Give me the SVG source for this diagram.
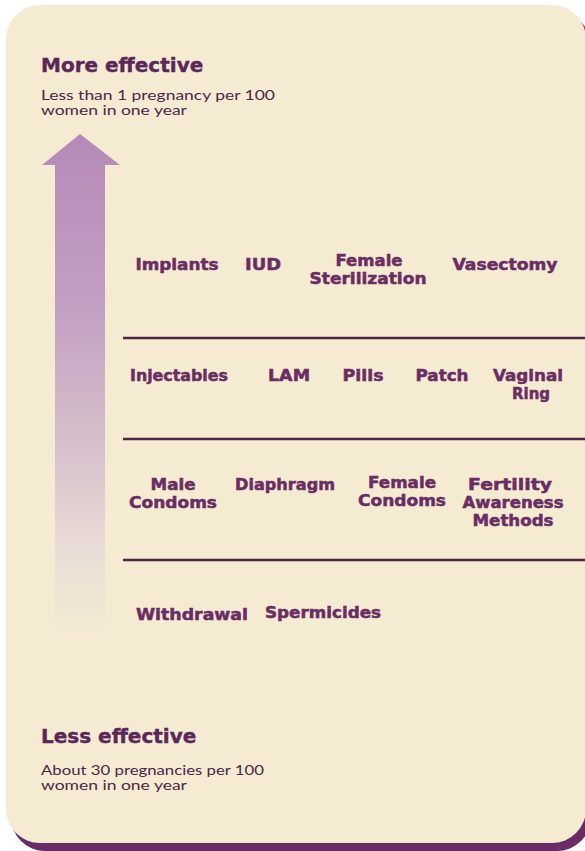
<svg xmlns="http://www.w3.org/2000/svg" width="585" height="851" viewBox="0 0 585 851">
<defs>
<linearGradient id="arrowGrad" gradientUnits="userSpaceOnUse" x1="0" y1="134" x2="0" y2="635">
<stop offset="0" stop-color="#b48ab8"/>
<stop offset="0.35" stop-color="#c2a0c2"/>
<stop offset="0.65" stop-color="#d9c4cd"/>
<stop offset="0.85" stop-color="#ebdfd6"/>
<stop offset="1" stop-color="#f4ebd2"/>
</linearGradient>
<style>
.item{font-family:"DejaVu Sans",sans-serif;font-weight:bold;font-size:15px;fill:#6a2d63;stroke:#6a2d63;stroke-width:0.5;text-anchor:middle}
.head{font-family:"DejaVu Sans",sans-serif;font-weight:bold;font-size:20px;fill:#5b2658;stroke:#5b2658;stroke-width:0.4}
.note{font-family:"Lato","Liberation Sans",sans-serif;font-size:13px;fill:#4a2747}
.sep{stroke:#502445;stroke-width:2.5;fill:none}
</style>
</defs>
<rect x="0" y="0" width="585" height="851" fill="#ffffff"/>
<rect x="11" y="12" width="580" height="839" rx="34" fill="#6a2c66"/>
<rect x="6" y="5" width="580" height="838" rx="34" fill="#f4ebd2"/>
<g id="arrow">
<path d="M80 134 L120 165 L105 165 L105 635 L55 635 L55 165 L42 165 Z" fill="url(#arrowGrad)"/>
</g>
<g id="connectors">
<line class="sep" x1="123" y1="338" x2="585" y2="338"/>
<line class="sep" x1="123" y1="439" x2="585" y2="439"/>
<line class="sep" x1="123" y1="560" x2="585" y2="560"/>
</g>
<g id="more-effective">
<text class="head" x="41" y="72">More effective</text>
<text class="note" x="41" y="100" textLength="234" lengthAdjust="spacingAndGlyphs">Less than 1 pregnancy per 100</text>
<text class="note" x="41" y="115" textLength="146" lengthAdjust="spacingAndGlyphs">women in one year</text>
</g>
<g id="less-effective">
<text class="head" x="41" y="743">Less effective</text>
<text class="note" x="41" y="775" textLength="223" lengthAdjust="spacingAndGlyphs">About 30 pregnancies per 100</text>
<text class="note" x="41" y="790" textLength="146" lengthAdjust="spacingAndGlyphs">women in one year</text>
</g>
<g id="implants"><text class="item" x="177" y="270" textLength="83" lengthAdjust="spacingAndGlyphs">Implants</text></g>
<g id="iud"><text class="item" x="263" y="270" textLength="36" lengthAdjust="spacingAndGlyphs">IUD</text></g>
<g id="female-sterilization"><text class="item" x="369" y="266" textLength="67" lengthAdjust="spacingAndGlyphs">Female</text><text class="item" x="368" y="284" textLength="117" lengthAdjust="spacingAndGlyphs">Sterilization</text></g>
<g id="vasectomy"><text class="item" x="505" y="270" textLength="105" lengthAdjust="spacingAndGlyphs">Vasectomy</text></g>
<g id="injectables"><text class="item" x="179" y="381" textLength="98" lengthAdjust="spacingAndGlyphs">Injectables</text></g>
<g id="lam"><text class="item" x="289" y="381" textLength="42" lengthAdjust="spacingAndGlyphs">LAM</text></g>
<g id="pills"><text class="item" x="363" y="381" textLength="41" lengthAdjust="spacingAndGlyphs">Pills</text></g>
<g id="patch"><text class="item" x="442" y="381" textLength="53" lengthAdjust="spacingAndGlyphs">Patch</text></g>
<g id="vaginal-ring"><text class="item" x="528" y="381" textLength="70" lengthAdjust="spacingAndGlyphs">Vaginal</text><text class="item" x="531" y="399" textLength="38" lengthAdjust="spacingAndGlyphs">Ring</text></g>
<g id="male-condoms"><text class="item" x="173" y="490" textLength="45" lengthAdjust="spacingAndGlyphs">Male</text><text class="item" x="173" y="508" textLength="88" lengthAdjust="spacingAndGlyphs">Condoms</text></g>
<g id="diaphragm"><text class="item" x="285" y="490" textLength="100" lengthAdjust="spacingAndGlyphs">Diaphragm</text></g>
<g id="female-condoms"><text class="item" x="402" y="488" textLength="68" lengthAdjust="spacingAndGlyphs">Female</text><text class="item" x="402" y="506" textLength="88" lengthAdjust="spacingAndGlyphs">Condoms</text></g>
<g id="fertility-awareness"><text class="item" x="510" y="490" textLength="84" lengthAdjust="spacingAndGlyphs">Fertility</text><text class="item" x="513" y="508" textLength="101" lengthAdjust="spacingAndGlyphs">Awareness</text><text class="item" x="513" y="526" textLength="81" lengthAdjust="spacingAndGlyphs">Methods</text></g>
<g id="withdrawal"><text class="item" x="192" y="620" textLength="112" lengthAdjust="spacingAndGlyphs">Withdrawal</text></g>
<g id="spermicides"><text class="item" x="323" y="618" textLength="116" lengthAdjust="spacingAndGlyphs">Spermicides</text></g>
</svg>
